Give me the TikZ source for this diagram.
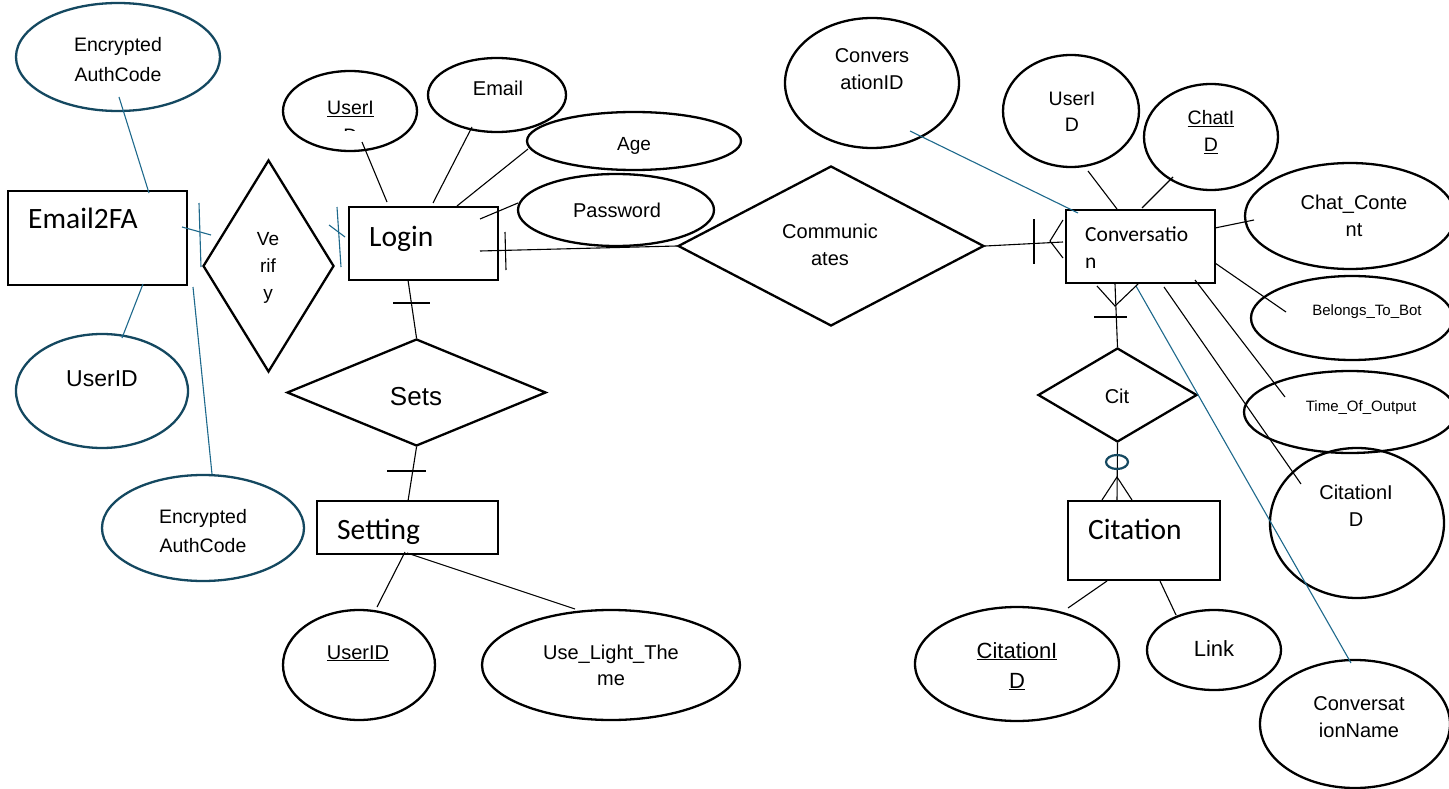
\documentclass[tikz,border=0pt]{standalone}
\usepackage{fontspec}
\setmainfont{Liberation Sans}
\newfontfamily\entfont{Carlito}
\usetikzlibrary{shapes.geometric}
\definecolor{eteal}{RGB}{20,72,96}
\definecolor{lblue}{RGB}{30,105,140}
\begin{document}
\begin{tikzpicture}[x=1pt,y=-1pt,
  attr/.style 2 args={draw, ellipse, line width=2.3pt, minimum width={2*#1}, minimum height={2*#2}, inner sep=0pt},
  tattr/.style 2 args={attr={#1}{#2}, draw=eteal},
  entity/.style={draw, line width=2pt, inner sep=0pt},
  rel/.style 2 args={draw, diamond, line width=2.3pt, minimum width={#1}, minimum height={#2}, inner sep=0pt},
  conn/.style={line width=1.1pt},
  bconn/.style={line width=1.1pt, draw=lblue},
  lbl/.style={inner sep=0pt, anchor=base, align=center, font=\fontsize{20}{27}\selectfont},
  elbl/.style={inner sep=0pt, anchor=base west, font=\entfont\fontsize{29.5}{34}\selectfont}
]
\clip (0,0) rectangle (1449,789);
\fill[white] (0,0) rectangle (1449,789);

% ---------- entities ----------
\node[entity, minimum width=179, minimum height=94] (email2fa) at (97.5,238) {};
\node[elbl] (email2faT) at (28,229) {Email2FA};
\node[entity, minimum width=149, minimum height=73] (login) at (423.5,243.5) {};
\node[elbl] (loginT) at (369,246) {Login};
\node[entity, minimum width=181, minimum height=53] (setting) at (407.5,527.5) {};
\node[elbl] (settingT) at (337,539) {Setting};
\node[entity, minimum width=149, minimum height=73] (conversation) at (1140.5,246.5) {};
\node[elbl, font=\entfont\fontsize{21.5}{27}\selectfont, align=left] (conversationT) at (1085,268) {Conversatio\\n};
\node[entity, minimum width=152, minimum height=79] (citation) at (1144,540.5) {};
\node[elbl] (citationT) at (1088,539) {Citation};

% ---------- relationships ----------
\node[rel={131}{212}] (verify) at (268.5,266) {};
\node[lbl, font=\fontsize{19}{27}\selectfont] (verifyT) at (268,299) {Ve\\rif\\y};
\node[rel={306}{160}] (comm) at (831,246) {};
\node[lbl] (commT) at (830,265) {Communic\\ates};
\node[rel={259}{107}] (sets) at (416.5,392.5) {};
\node[lbl, font=\fontsize{26}{30}\selectfont] (setsT) at (416,405) {Sets};
\node[rel={159}{94}] (cit) at (1117.5,395) {};
\node[lbl] (citT) at (1117,403) {Cit};

% ---------- attributes ----------
\node[tattr={102}{54}] (encTop) at (118,57) {};
\node[lbl, font=\fontsize{19.5}{30}\selectfont] (encTopT) at (118,82) {Encrypted\\AuthCode};
\node[tattr={86}{57}] (uidLeft) at (102,391) {};
\node[lbl, font=\fontsize{23}{28}\selectfont] (uidLeftT) at (102,386) {UserID};
\node[tattr={101}{53}] (encBot) at (203,528) {};
\node[lbl, font=\fontsize{19.5}{29}\selectfont] (encBotT) at (203,552) {Encrypted\\AuthCode};

\node[attr={67}{40}] (uidLogin) at (350,111) {};
\node[lbl, font=\fontsize{19.5}{27}\selectfont] (uidLoginT) at (350.5,115) {\underline{UserI}};
\begin{scope}
  \clip (283,100) rectangle (420,130.5);
  \node[lbl, font=\fontsize{19.5}{27}\selectfont] (uidLoginD) at (350.5,142.5) {D};
\end{scope}
\node[attr={69}{37}] (email) at (497,95) {};
\node[lbl] (emailT) at (498,96) {Email};
\node[attr={107}{29}] (age) at (634,141) {};
\node[lbl, font=\fontsize{19}{27}\selectfont] (ageT) at (634,151) {Age};
\node[attr={98}{36}] (password) at (616,210) {};
\node[lbl] (passwordT) at (617,217) {Password};

\node[attr={76}{55}] (uidSet) at (359,665) {};
\node[lbl] (uidSetT) at (358,659) {\underline{UserID}};
\node[attr={129}{55}] (theme) at (611,665) {};
\node[lbl, font=\fontsize{20}{26}\selectfont] (themeT) at (611,685) {Use\_Light\_The\\me};

\node[attr={87}{65}] (convID) at (872,83) {};
\node[lbl] (convIDT) at (872,90) {Convers\\ationID};
\node[attr={68}{56}] (uidConv) at (1071,111) {};
\node[lbl, font=\fontsize{19.5}{27}\selectfont] (uidConvT) at (1072,132) {UserI\\D};
\node[attr={67}{53}] (chatID) at (1211,137) {};
\node[lbl, font=\fontsize{19.5}{27}\selectfont] (chatIDT) at (1211,152) {\underline{ChatI}\\\underline{D}};
\node[attr={105}{53}] (chatContent) at (1350,216) {};
\node[lbl] (chatContentT) at (1354,236) {Chat\_Conte\\nt};
\node[attr={101}{42}] (belongs) at (1352,318) {};
\node[lbl, font=\fontsize{15}{20}\selectfont] (belongsT) at (1367,315) {Belongs\_To\_Bot};
\node[attr={106}{41}] (timeout) at (1350,412) {};
\node[lbl, font=\fontsize{15}{20}\selectfont] (timeoutT) at (1361,411) {Time\_Of\_Output};
\node[attr={87}{75}] (citIDR) at (1357,523) {};
\node[lbl] (citIDRT) at (1356,526) {CitationI\\D};
\node[attr={95}{64}] (convName) at (1355,724) {};
\node[lbl] (convNameT) at (1359,737) {Conversat\\ionName};

\node[attr={102}{57}] (citIDB) at (1017,664) {};
\node[lbl, font=\fontsize{22}{30}\selectfont] (citIDBT) at (1017,688) {\underline{CitationI}\\\underline{D}};
\node[attr={67}{40}] (link) at (1214,650) {};
\node[lbl, font=\fontsize{22}{27}\selectfont] (linkT) at (1214,656) {Link};

% ---------- connector end points ----------
\coordinate (a1) at (119,97);   \coordinate (a2) at (149,193);
\coordinate (b1) at (143,284);  \coordinate (b2) at (122,338);
\coordinate (d1) at (193,287);  \coordinate (d2) at (212,474);
\coordinate (e1) at (182,227);  \coordinate (e2) at (211,235);
\coordinate (f1) at (199,203);  \coordinate (f2) at (201,267);
\coordinate (g1) at (329,225);  \coordinate (g2) at (345,237);
\coordinate (h1) at (337,207);  \coordinate (h2) at (341,267);

\coordinate (l1) at (362,142);  \coordinate (l2) at (387,202);
\coordinate (m1) at (472,127);  \coordinate (m2) at (433,203);
\coordinate (n1) at (528,149);  \coordinate (n2) at (457,206);
\coordinate (o1) at (518,203);  \coordinate (o2) at (480,219);

\coordinate (lc1) at (480,251);
\coordinate (lcT1) at (505,232); \coordinate (lcT2) at (506,270);
\coordinate (cc2) at (1063,242);
\coordinate (ccT1) at (1034,219); \coordinate (ccT2) at (1034,264);
\coordinate (ccV) at (1050,241);
\coordinate (ccA) at (1063,220); \coordinate (ccB) at (1063,258);

\coordinate (ls1) at (408,280);
\coordinate (lsT1) at (393,303); \coordinate (lsT2) at (430,303);
\coordinate (ss2) at (408,501);
\coordinate (ssT1) at (387,471); \coordinate (ssT2) at (426,471);

\coordinate (p1) at (405,552); \coordinate (p2) at (377,607);
\coordinate (q1) at (407,553); \coordinate (q2) at (575,609);

\coordinate (r1) at (910,131);  \coordinate (r2) at (1078,213);
\coordinate (s1) at (1088,171); \coordinate (s2) at (1117,209);
\coordinate (t1) at (1173,177); \coordinate (t2) at (1142,208);
\coordinate (u1) at (1215,228); \coordinate (u2) at (1254,220);
\coordinate (v1) at (1215,263); \coordinate (v2) at (1286,312);
\coordinate (w1) at (1195,280); \coordinate (w2) at (1285,397);
\coordinate (x1) at (1164,287); \coordinate (x2) at (1301,484);
\coordinate (y1) at (1136,286); \coordinate (y2) at (1351,663);

\coordinate (ct1) at (1115,284);
\coordinate (ctV) at (1115,306);
\coordinate (ctA) at (1097,286); \coordinate (ctB) at (1138,284);
\coordinate (ctT1) at (1094,317); \coordinate (ctT2) at (1127,317);

\coordinate (cz2) at (1117,501);
\coordinate (czV) at (1117,477);
\coordinate (czA) at (1102,500); \coordinate (czB) at (1132,500);

\coordinate (k1) at (1068,608); \coordinate (k2) at (1107,581);
\coordinate (j1) at (1160,581); \coordinate (j2) at (1176,615);

% ---------- connectors ----------
\draw[bconn] (a1) -- (a2);
\draw[bconn] (b1) -- (b2);
\draw[bconn] (d1) -- (d2);
\draw[bconn] (e1) -- (e2);
\draw[bconn] (f1) -- (f2);
\draw[bconn] (g1) -- (g2);
\draw[bconn] (h1) -- (h2);

\draw[conn] (l1) -- (l2);
\draw[conn] (m1) -- (m2);
\draw[conn] (n1) -- (n2);
\draw[conn] (o1) -- (o2);

\draw[conn] (lc1) -- (comm.west);
\draw[conn] (lcT1) -- (lcT2);
\draw[conn] (comm.east) -- (cc2);
\draw[conn] (ccT1) -- (ccT2);
\draw[conn] (ccA) -- (ccV) -- (ccB);

\draw[conn] (ls1) -- (sets.north);
\draw[conn] (lsT1) -- (lsT2);
\draw[conn] (sets.south) -- (ss2);
\draw[conn] (ssT1) -- (ssT2);

\draw[conn] (p1) -- (p2);
\draw[conn] (q1) -- (q2);

\draw[bconn] (r1) -- (r2);
\draw[conn] (s1) -- (s2);
\draw[conn] (t1) -- (t2);
\draw[conn] (u1) -- (u2);
\draw[conn] (v1) -- (v2);
\draw[conn] (w1) -- (w2);
\draw[conn] (x1) -- (x2);
\draw[bconn] (y1) -- (y2);

\draw[conn] (ct1) -- (cit.north);
\draw[conn] (ctA) -- (ctV) -- (ctB);
\draw[conn] (ctT1) -- (ctT2);

\draw[conn] (cit.south) -- (cz2);
\draw[conn] (czA) -- (czV) -- (czB);
\node[draw=eteal, ellipse, line width=2.2pt, minimum width=22, minimum height=14, inner sep=0pt] (optC) at (1117,462) {};

\draw[conn] (k1) -- (k2);
\draw[conn] (j1) -- (j2);
\end{tikzpicture}
\end{document}
